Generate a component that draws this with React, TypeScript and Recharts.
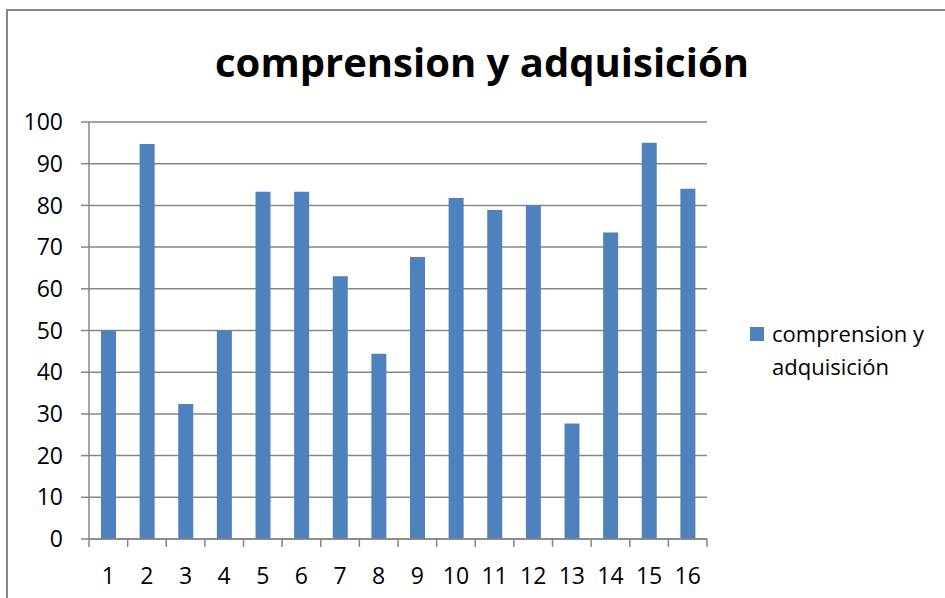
import { BarChart, Bar, XAxis, YAxis, CartesianGrid, Legend } from 'recharts';

const categories = [1, 2, 3, 4, 5, 6, 7, 8, 9, 10, 11, 12, 13, 14, 15, 16];
const values = [50, 94.7, 32.4, 50, 83.3, 83.3, 63, 44.4, 67.6, 81.8, 78.9, 80, 27.7, 73.5, 95, 84];
const yTicks = [0, 10, 20, 30, 40, 50, 60, 70, 80, 90, 100];
const seriesName = 'comprension y adquisición';

const data = categories.map((c, i) => ({ cat: c, value: values[i] }));

// integer ticks carry the labels, half steps carry the tick marks between bars
const xTicks = [0.5, ...categories.flatMap((c) => [c, c + 0.5])];

const gray = '#868686';
const blue = '#4F81BD';
const font = '"Open Sans", sans-serif';

const XTick = ({ x, y, payload }: any) => {
  const v = payload.value;
  if (Number.isInteger(v)) {
    return (
      <text x={x} y={y + 36} textAnchor="middle" dominantBaseline="central" fontSize={23} fill="#000" fontFamily={font}>
        {v}
      </text>
    );
  }
  return <line x1={x} y1={y} x2={x} y2={y + 8} stroke={gray} strokeWidth={1.5} />;
};

const LegendBox = () => (
  <div style={{ display: 'flex', alignItems: 'flex-start', fontFamily: font, fontSize: 22, color: '#000', lineHeight: '33px' }}>
    <span style={{ width: 14, height: 14, background: blue, marginTop: 10, marginRight: 8, flexShrink: 0 }}></span>
    <span style={{ width: 170 }}>{seriesName}</span>
  </div>
);

export default function App() {
  return (
    <div style={{ position: 'fixed', left: 0, top: 0, width: 945, height: 598, overflow: 'hidden', background: '#fff' }}>
      <div style={{ position: 'absolute', left: 6, top: 9, width: 1100, height: 800, border: `2px solid ${gray}` }}></div>
      <div style={{ position: 'absolute', left: 0, top: 37, width: 964, textAlign: 'center', fontFamily: font, fontWeight: 700, fontSize: 40, lineHeight: '50px', color: '#000' }}>
        comprension y adquisición
      </div>
      <div style={{ position: 'absolute', left: 0, top: 0 }}>
        <BarChart width={945} height={598} data={data} margin={{ top: 122, right: 43, bottom: 0, left: 0 }}>
          <CartesianGrid vertical={false} stroke={gray} strokeWidth={1.5} />
          <XAxis
            dataKey="cat"
            type="number"
            domain={[0.5, 16.5]}
            ticks={xTicks}
            interval={0}
            height={59}
            tickSize={0}
            tickMargin={0}
            tickLine={false}
            axisLine={{ stroke: gray, strokeWidth: 1.5 }}
            tick={<XTick />}
          />
          <YAxis
            domain={[0, 100]}
            ticks={yTicks}
            interval={0}
            width={89}
            tickSize={8}
            tickMargin={18}
            tickLine={{ stroke: gray, strokeWidth: 1.5 }}
            axisLine={{ stroke: gray, strokeWidth: 1.5 }}
            tick={{ fill: '#000', fontSize: 23, fontFamily: font }}
          />
          <Legend
            layout="vertical"
            align="right"
            verticalAlign="middle"
            content={<LegendBox />}
            wrapperStyle={{ position: 'absolute', left: 750, top: 317, width: 195 }}
          />
          <Bar dataKey="value" name={seriesName} fill={blue} barSize={15} isAnimationActive={false} />
        </BarChart>
      </div>
    </div>
  );
}
